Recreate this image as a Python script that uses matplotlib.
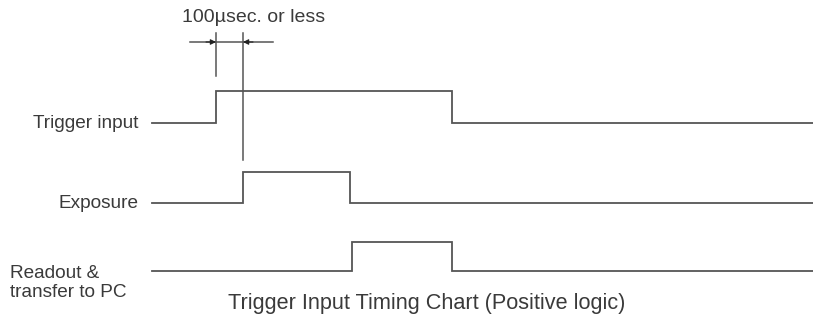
import matplotlib
matplotlib.use("Agg")
import matplotlib.pyplot as plt

# signal edges (time positions on the chart scale) and levels
start_t = 152
end_t = 813
trigger_edges = [216, 452]
exposure_edges = [243, 350]
readout_edges = [352, 452]

signal_names = ["Trigger input", "Exposure", "Readout &\ntransfer to PC"]
signal_lows = [123, 203, 271]
signal_highs = [91, 172, 242]

delay_note = "100\u00b5sec. or less"
title = "Trigger Input Timing Chart (Positive logic)"

plt.rcParams["font.family"] = ["Liberation Sans", "DejaVu Sans"]
line_c = "#555555"
text_c = "#3a3a3a"

fig = plt.figure(figsize=(8.13, 3.2), dpi=100)
ax = fig.add_axes([0, 0, 1, 1])
ax.set_xlim(0, 813)
ax.set_ylim(320, 0)
ax.axis("off")


def pulse(edges, lo, hi):
    xs = [start_t, edges[0], edges[0], edges[1], edges[1], end_t]
    ys = [lo, lo, hi, hi, lo, lo]
    ax.plot(xs, ys, color=line_c, lw=1.3, solid_joinstyle="miter")


for edges, lo, hi in zip([trigger_edges, exposure_edges, readout_edges], signal_lows, signal_highs):
    pulse(edges, lo, hi)

# labels
ax.text(138, signal_lows[0], signal_names[0], ha="right", va="center", fontsize=13.7, color=text_c)
ax.text(138, signal_lows[1], signal_names[1], ha="right", va="center", fontsize=13.7, color=text_c)
ax.text(10, 283, signal_names[2], ha="left", va="center", fontsize=13.7,
        color=text_c, linespacing=1.15)

# delay marker
ax.plot([trigger_edges[0], trigger_edges[0]], [33, 76], color=line_c, lw=1.1)
ax.plot([exposure_edges[0], exposure_edges[0]], [33, 160], color=line_c, lw=1.1)
ax.plot([190, 273], [42, 42], color=line_c, lw=1.1)
ax.annotate("", xy=(trigger_edges[0], 42), xytext=(trigger_edges[0] - 10, 42),
            arrowprops=dict(arrowstyle="-|>", color="#222222", lw=0.8, mutation_scale=8,
                            shrinkA=0, shrinkB=0))
ax.annotate("", xy=(exposure_edges[0], 42), xytext=(exposure_edges[0] + 10, 42),
            arrowprops=dict(arrowstyle="-|>", color="#222222", lw=0.8, mutation_scale=8,
                            shrinkA=0, shrinkB=0))
ax.text(254, 18, delay_note, ha="center", va="center", fontsize=14, color=text_c)

ax.text(427, 303, title, ha="center", va="center", fontsize=15.6, color=text_c)

fig.savefig("out.png", dpi=100)
